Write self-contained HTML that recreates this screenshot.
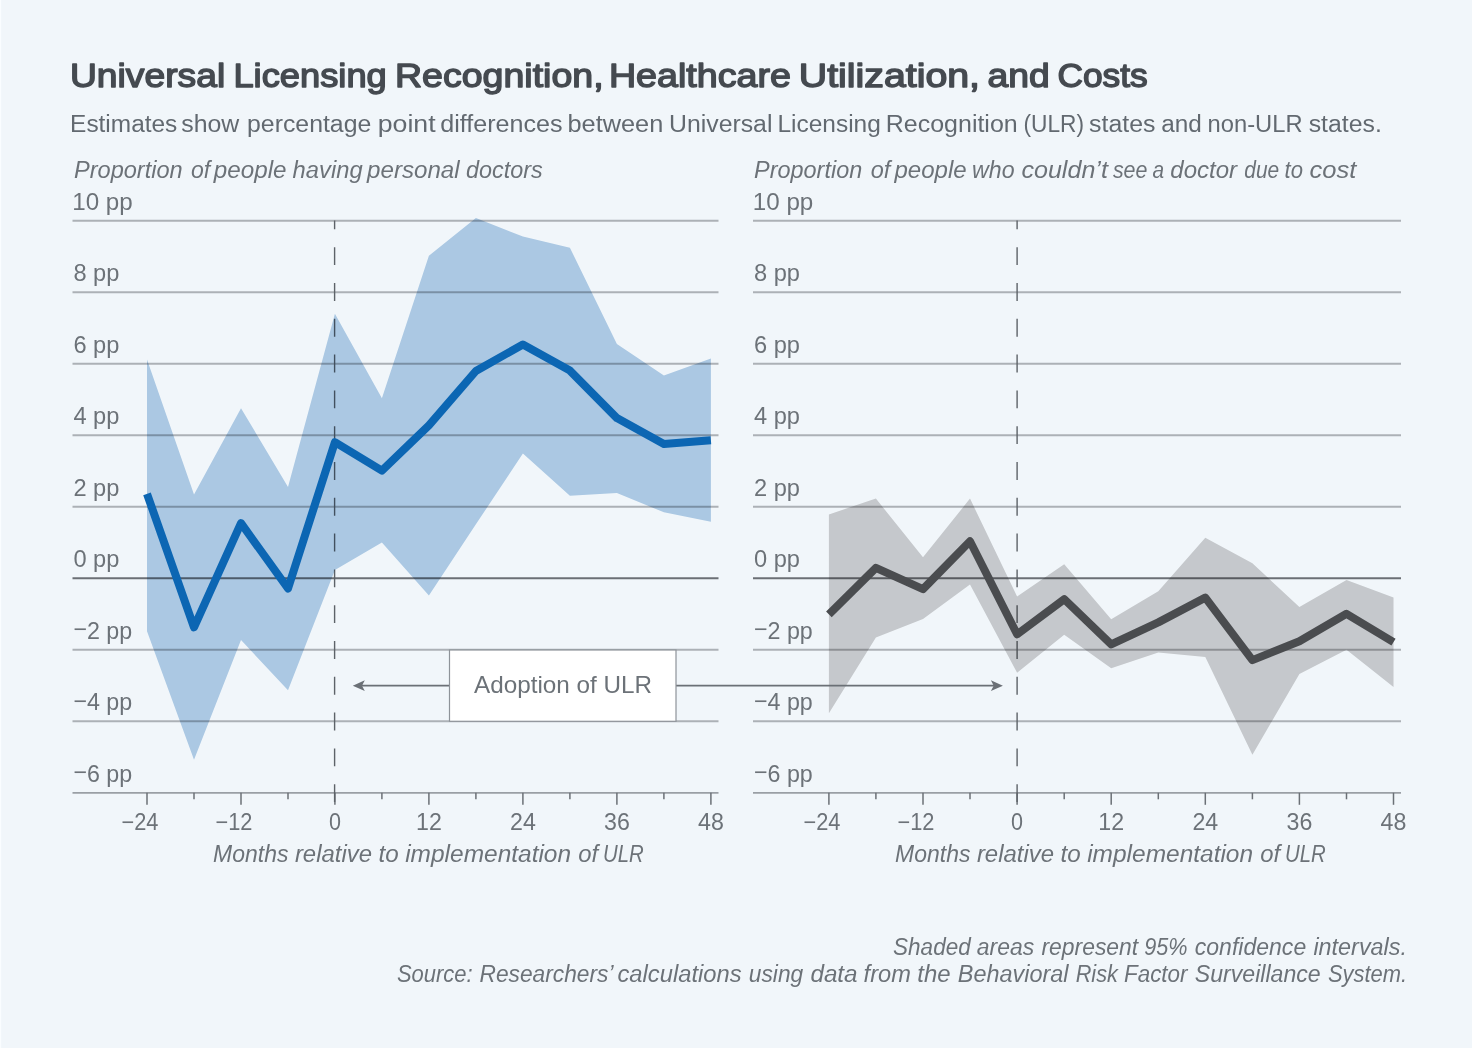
<!DOCTYPE html>
<html><head><meta charset="utf-8"><title>Universal Licensing Recognition, Healthcare Utilization, and Costs</title>
<style>
html,body{margin:0;padding:0;background:#f1f6fa;}
svg{display:block}
text{font-family:"Liberation Sans",sans-serif;}
.lab{font-size:23px;fill:#6c7278;}
.it{font-size:23px;font-style:italic;fill:#6c7278;}
</style></head><body>
<svg width="1472" height="1048" viewBox="0 0 1472 1048">
<rect width="1472" height="1048" fill="#f1f6fa"/>
<rect x="0" y="0" width="1.2" height="1048" fill="#fafdff"/>
<text y="87.1" font-size="33.6" fill="#454a50" stroke="#454a50" stroke-width="1.45" stroke-linejoin="round"><tspan x="69.9" textLength="155.3" lengthAdjust="spacingAndGlyphs">Universal</tspan> <tspan x="233.4" textLength="153.4" lengthAdjust="spacingAndGlyphs">Licensing</tspan> <tspan x="395.0" textLength="208.6" lengthAdjust="spacingAndGlyphs">Recognition,</tspan> <tspan x="608.9" textLength="182.1" lengthAdjust="spacingAndGlyphs">Healthcare</tspan> <tspan x="798.8" textLength="181.2" lengthAdjust="spacingAndGlyphs">Utilization,</tspan> <tspan x="987.6" textLength="62.2" lengthAdjust="spacingAndGlyphs">and</tspan> <tspan x="1057.4" textLength="90.4" lengthAdjust="spacingAndGlyphs">Costs</tspan></text>
<text y="131.7" font-size="23.5" fill="#626970"><tspan x="70.1" textLength="107.2" lengthAdjust="spacingAndGlyphs">Estimates</tspan> <tspan x="181.2" textLength="58.1" lengthAdjust="spacingAndGlyphs">show</tspan> <tspan x="247.0" textLength="124.3" lengthAdjust="spacingAndGlyphs">percentage</tspan> <tspan x="377.7" textLength="57.9" lengthAdjust="spacingAndGlyphs">point</tspan> <tspan x="440.2" textLength="122.4" lengthAdjust="spacingAndGlyphs">differences</tspan> <tspan x="567.5" textLength="95.8" lengthAdjust="spacingAndGlyphs">between</tspan> <tspan x="669.0" textLength="103.4" lengthAdjust="spacingAndGlyphs">Universal</tspan> <tspan x="777.4" textLength="103.4" lengthAdjust="spacingAndGlyphs">Licensing</tspan> <tspan x="885.8" textLength="131.9" lengthAdjust="spacingAndGlyphs">Recognition</tspan> <tspan x="1023.5" textLength="60.6" lengthAdjust="spacingAndGlyphs">(ULR)</tspan> <tspan x="1089.1" textLength="66.3" lengthAdjust="spacingAndGlyphs">states</tspan> <tspan x="1161.2" textLength="40.6" lengthAdjust="spacingAndGlyphs">and</tspan> <tspan x="1207.6" textLength="95.0" lengthAdjust="spacingAndGlyphs">non-ULR</tspan> <tspan x="1308.7" textLength="73.1" lengthAdjust="spacingAndGlyphs">states.</tspan></text>
<text y="177.6" class="it"><tspan x="74.0" textLength="108.7" lengthAdjust="spacingAndGlyphs">Proportion</tspan> <tspan x="191.0" textLength="19.2" lengthAdjust="spacingAndGlyphs">of</tspan> <tspan x="213.8" textLength="72.7" lengthAdjust="spacingAndGlyphs">people</tspan> <tspan x="292.6" textLength="70.0" lengthAdjust="spacingAndGlyphs">having</tspan> <tspan x="367.1" textLength="92.5" lengthAdjust="spacingAndGlyphs">personal</tspan> <tspan x="466.0" textLength="76.7" lengthAdjust="spacingAndGlyphs">doctors</tspan></text>
<text y="177.6" class="it"><tspan x="754.1" textLength="108.1" lengthAdjust="spacingAndGlyphs">Proportion</tspan> <tspan x="870.8" textLength="19.6" lengthAdjust="spacingAndGlyphs">of</tspan> <tspan x="894.5" textLength="72.2" lengthAdjust="spacingAndGlyphs">people</tspan> <tspan x="972.1" textLength="42.5" lengthAdjust="spacingAndGlyphs">who</tspan> <tspan x="1021.4" textLength="86.5" lengthAdjust="spacingAndGlyphs">couldn’t</tspan> <tspan x="1112.9" textLength="34.5" lengthAdjust="spacingAndGlyphs">see</tspan> <tspan x="1152.4" textLength="11.6" lengthAdjust="spacingAndGlyphs">a</tspan> <tspan x="1170.3" textLength="66.8" lengthAdjust="spacingAndGlyphs">doctor</tspan> <tspan x="1244.3" textLength="34.9" lengthAdjust="spacingAndGlyphs">due</tspan> <tspan x="1284.6" textLength="18.4" lengthAdjust="spacingAndGlyphs">to</tspan> <tspan x="1309.6" textLength="46.8" lengthAdjust="spacingAndGlyphs">cost</tspan></text>
<line x1="72.5" x2="718.5" y1="220.8" y2="220.8" stroke="#acb1b6" stroke-width="1.9"/>
<line x1="72.5" x2="718.5" y1="292.3" y2="292.3" stroke="#acb1b6" stroke-width="1.9"/>
<line x1="72.5" x2="718.5" y1="363.8" y2="363.8" stroke="#acb1b6" stroke-width="1.9"/>
<line x1="72.5" x2="718.5" y1="435.3" y2="435.3" stroke="#acb1b6" stroke-width="1.9"/>
<line x1="72.5" x2="718.5" y1="506.8" y2="506.8" stroke="#acb1b6" stroke-width="1.9"/>
<line x1="72.5" x2="718.5" y1="649.8" y2="649.8" stroke="#acb1b6" stroke-width="1.9"/>
<line x1="72.5" x2="718.5" y1="721.3" y2="721.3" stroke="#acb1b6" stroke-width="1.9"/>
<line x1="72.5" x2="718.5" y1="578.2" y2="578.2" stroke="#6b6f75" stroke-width="1.9"/>
<line x1="72.5" x2="718.5" y1="792.8" y2="792.8" stroke="#9a9fa5" stroke-width="1.8"/>
<line x1="147.0" x2="147.0" y1="792.8" y2="804.8" stroke="#6b7076" stroke-width="1.5"/>
<line x1="194.0" x2="194.0" y1="792.8" y2="799.3" stroke="#6b7076" stroke-width="1.5"/>
<line x1="241.0" x2="241.0" y1="792.8" y2="804.8" stroke="#6b7076" stroke-width="1.5"/>
<line x1="288.0" x2="288.0" y1="792.8" y2="799.3" stroke="#6b7076" stroke-width="1.5"/>
<line x1="334.9" x2="334.9" y1="792.8" y2="804.8" stroke="#6b7076" stroke-width="1.5"/>
<line x1="381.9" x2="381.9" y1="792.8" y2="799.3" stroke="#6b7076" stroke-width="1.5"/>
<line x1="428.9" x2="428.9" y1="792.8" y2="804.8" stroke="#6b7076" stroke-width="1.5"/>
<line x1="475.9" x2="475.9" y1="792.8" y2="799.3" stroke="#6b7076" stroke-width="1.5"/>
<line x1="522.9" x2="522.9" y1="792.8" y2="804.8" stroke="#6b7076" stroke-width="1.5"/>
<line x1="569.9" x2="569.9" y1="792.8" y2="799.3" stroke="#6b7076" stroke-width="1.5"/>
<line x1="616.9" x2="616.9" y1="792.8" y2="804.8" stroke="#6b7076" stroke-width="1.5"/>
<line x1="663.9" x2="663.9" y1="792.8" y2="799.3" stroke="#6b7076" stroke-width="1.5"/>
<line x1="710.9" x2="710.9" y1="792.8" y2="804.8" stroke="#6b7076" stroke-width="1.5"/>
<line x1="334.6" x2="334.6" y1="802.1" y2="220.5" stroke="#5d6268" stroke-width="1.4" stroke-dasharray="17.9 17.9"/>
<polygon fill="rgb(181,208,232)" style="mix-blend-mode:multiply" points="147.0,359.6 194.0,494.4 241.0,408.2 288.0,486.9 334.9,313.8 381.9,398.3 428.9,255.7 475.9,218.1 522.9,236.5 569.9,247.7 616.9,344.1 663.9,375.6 710.9,358.4 710.9,521.7 663.9,512.3 616.9,493.0 569.9,495.7 522.9,453.5 475.9,524.3 428.9,595.5 381.9,542.6 334.9,570.0 288.0,690.2 241.0,640.0 194.0,759.8 147.0,631.2"/>
<polyline fill="none" stroke="#0c66b3" stroke-width="8" stroke-linejoin="round" points="147.0,493.8 194.0,627.3 241.0,523.2 288.0,588.5 334.9,442.2 381.9,470.6 428.9,425.3 475.9,371.0 522.9,344.5 569.9,370.6 616.9,418.1 663.9,444.0 710.9,440.3"/>
<text x="72.2" y="209.6" class="lab" textLength="60.5" lengthAdjust="spacingAndGlyphs">10 pp</text>
<text x="73.4" y="281.1" class="lab" textLength="46" lengthAdjust="spacingAndGlyphs">8 pp</text>
<text x="73.4" y="352.6" class="lab" textLength="46" lengthAdjust="spacingAndGlyphs">6 pp</text>
<text x="73.4" y="424.1" class="lab" textLength="46" lengthAdjust="spacingAndGlyphs">4 pp</text>
<text x="73.4" y="495.6" class="lab" textLength="46" lengthAdjust="spacingAndGlyphs">2 pp</text>
<text x="73.4" y="567.1" class="lab" textLength="46" lengthAdjust="spacingAndGlyphs">0 pp</text>
<text x="73.4" y="638.6" class="lab" textLength="58.8" lengthAdjust="spacingAndGlyphs"><tspan dy="-1.6">−</tspan><tspan dy="1.6">2 pp</tspan></text>
<text x="73.4" y="710.1" class="lab" textLength="58.8" lengthAdjust="spacingAndGlyphs"><tspan dy="-1.6">−</tspan><tspan dy="1.6">4 pp</tspan></text>
<text x="73.4" y="781.6" class="lab" textLength="58.8" lengthAdjust="spacingAndGlyphs"><tspan dy="-1.6">−</tspan><tspan dy="1.6">6 pp</tspan></text>
<text x="158.5" y="830" class="lab" text-anchor="end" textLength="37" lengthAdjust="spacingAndGlyphs">−24</text>
<text x="252.5" y="830" class="lab" text-anchor="end" textLength="37" lengthAdjust="spacingAndGlyphs">−12</text>
<text x="334.9" y="830" class="lab" text-anchor="middle" textLength="12" lengthAdjust="spacingAndGlyphs">0</text>
<text x="428.9" y="830" class="lab" text-anchor="middle" textLength="25.8" lengthAdjust="spacingAndGlyphs">12</text>
<text x="522.9" y="830" class="lab" text-anchor="middle" textLength="25.8" lengthAdjust="spacingAndGlyphs">24</text>
<text x="616.9" y="830" class="lab" text-anchor="middle" textLength="25.8" lengthAdjust="spacingAndGlyphs">36</text>
<text x="710.9" y="830" class="lab" text-anchor="middle" textLength="25.8" lengthAdjust="spacingAndGlyphs">48</text>
<line x1="753" x2="1401" y1="220.8" y2="220.8" stroke="#acb1b6" stroke-width="1.9"/>
<line x1="753" x2="1401" y1="292.3" y2="292.3" stroke="#acb1b6" stroke-width="1.9"/>
<line x1="753" x2="1401" y1="363.8" y2="363.8" stroke="#acb1b6" stroke-width="1.9"/>
<line x1="753" x2="1401" y1="435.3" y2="435.3" stroke="#acb1b6" stroke-width="1.9"/>
<line x1="753" x2="1401" y1="506.8" y2="506.8" stroke="#acb1b6" stroke-width="1.9"/>
<line x1="753" x2="1401" y1="649.8" y2="649.8" stroke="#acb1b6" stroke-width="1.9"/>
<line x1="753" x2="1401" y1="721.3" y2="721.3" stroke="#acb1b6" stroke-width="1.9"/>
<line x1="753" x2="1401" y1="578.2" y2="578.2" stroke="#6b6f75" stroke-width="1.9"/>
<line x1="753" x2="1401" y1="792.8" y2="792.8" stroke="#9a9fa5" stroke-width="1.8"/>
<line x1="828.9" x2="828.9" y1="792.8" y2="804.8" stroke="#6b7076" stroke-width="1.5"/>
<line x1="875.9" x2="875.9" y1="792.8" y2="799.3" stroke="#6b7076" stroke-width="1.5"/>
<line x1="923.0" x2="923.0" y1="792.8" y2="804.8" stroke="#6b7076" stroke-width="1.5"/>
<line x1="970.0" x2="970.0" y1="792.8" y2="799.3" stroke="#6b7076" stroke-width="1.5"/>
<line x1="1017.1" x2="1017.1" y1="792.8" y2="804.8" stroke="#6b7076" stroke-width="1.5"/>
<line x1="1064.2" x2="1064.2" y1="792.8" y2="799.3" stroke="#6b7076" stroke-width="1.5"/>
<line x1="1111.2" x2="1111.2" y1="792.8" y2="804.8" stroke="#6b7076" stroke-width="1.5"/>
<line x1="1158.3" x2="1158.3" y1="792.8" y2="799.3" stroke="#6b7076" stroke-width="1.5"/>
<line x1="1205.3" x2="1205.3" y1="792.8" y2="804.8" stroke="#6b7076" stroke-width="1.5"/>
<line x1="1252.4" x2="1252.4" y1="792.8" y2="799.3" stroke="#6b7076" stroke-width="1.5"/>
<line x1="1299.4" x2="1299.4" y1="792.8" y2="804.8" stroke="#6b7076" stroke-width="1.5"/>
<line x1="1346.5" x2="1346.5" y1="792.8" y2="799.3" stroke="#6b7076" stroke-width="1.5"/>
<line x1="1393.5" x2="1393.5" y1="792.8" y2="804.8" stroke="#6b7076" stroke-width="1.5"/>
<line x1="1017.1" x2="1017.1" y1="802.1" y2="220.5" stroke="#5d6268" stroke-width="1.4" stroke-dasharray="17.9 17.9"/>
<polygon fill="rgb(209,208,208)" style="mix-blend-mode:multiply" points="828.9,514.4 875.9,498.6 923.0,557.3 970.0,498.6 1017.1,596.5 1064.2,564.3 1111.2,619.3 1158.3,591.3 1205.3,537.7 1252.4,563.3 1299.4,607.0 1346.5,579.9 1393.5,597.6 1393.5,686.9 1346.5,649.8 1299.4,674.0 1252.4,754.8 1205.3,656.9 1158.3,652.6 1111.2,668.3 1064.2,634.7 1017.1,672.8 970.0,584.5 923.0,618.9 875.9,637.5 828.9,713.3"/>
<polyline fill="none" stroke="#4a4c4f" stroke-width="8" stroke-linejoin="round" points="828.9,614.3 875.9,567.9 923.0,589.1 970.0,541.3 1017.1,634.3 1064.2,599.2 1111.2,644.4 1158.3,622.4 1205.3,597.6 1252.4,660.1 1299.4,641.2 1346.5,613.8 1393.5,642.2"/>
<text x="752.8" y="209.6" class="lab" textLength="60.5" lengthAdjust="spacingAndGlyphs">10 pp</text>
<text x="754" y="281.1" class="lab" textLength="46" lengthAdjust="spacingAndGlyphs">8 pp</text>
<text x="754" y="352.6" class="lab" textLength="46" lengthAdjust="spacingAndGlyphs">6 pp</text>
<text x="754" y="424.1" class="lab" textLength="46" lengthAdjust="spacingAndGlyphs">4 pp</text>
<text x="754" y="495.6" class="lab" textLength="46" lengthAdjust="spacingAndGlyphs">2 pp</text>
<text x="754" y="567.1" class="lab" textLength="46" lengthAdjust="spacingAndGlyphs">0 pp</text>
<text x="754" y="638.6" class="lab" textLength="58.8" lengthAdjust="spacingAndGlyphs"><tspan dy="-1.6">−</tspan><tspan dy="1.6">2 pp</tspan></text>
<text x="754" y="710.1" class="lab" textLength="58.8" lengthAdjust="spacingAndGlyphs"><tspan dy="-1.6">−</tspan><tspan dy="1.6">4 pp</tspan></text>
<text x="754" y="781.6" class="lab" textLength="58.8" lengthAdjust="spacingAndGlyphs"><tspan dy="-1.6">−</tspan><tspan dy="1.6">6 pp</tspan></text>
<text x="840.4" y="830" class="lab" text-anchor="end" textLength="37" lengthAdjust="spacingAndGlyphs">−24</text>
<text x="934.5" y="830" class="lab" text-anchor="end" textLength="37" lengthAdjust="spacingAndGlyphs">−12</text>
<text x="1017.1" y="830" class="lab" text-anchor="middle" textLength="12" lengthAdjust="spacingAndGlyphs">0</text>
<text x="1111.2" y="830" class="lab" text-anchor="middle" textLength="25.8" lengthAdjust="spacingAndGlyphs">12</text>
<text x="1205.3" y="830" class="lab" text-anchor="middle" textLength="25.8" lengthAdjust="spacingAndGlyphs">24</text>
<text x="1299.4" y="830" class="lab" text-anchor="middle" textLength="25.8" lengthAdjust="spacingAndGlyphs">36</text>
<text x="1393.5" y="830" class="lab" text-anchor="middle" textLength="25.8" lengthAdjust="spacingAndGlyphs">48</text>
<text y="862.2" class="it"><tspan x="213.1" textLength="75.3" lengthAdjust="spacingAndGlyphs">Months</tspan> <tspan x="294.9" textLength="77.2" lengthAdjust="spacingAndGlyphs">relative</tspan> <tspan x="378.6" textLength="20.2" lengthAdjust="spacingAndGlyphs">to</tspan> <tspan x="405.2" textLength="165.9" lengthAdjust="spacingAndGlyphs">implementation</tspan> <tspan x="578.3" textLength="19.9" lengthAdjust="spacingAndGlyphs">of</tspan> <tspan x="603.0" textLength="40.7" lengthAdjust="spacingAndGlyphs">ULR</tspan></text>
<text y="862.2" class="it"><tspan x="895.1" textLength="75.3" lengthAdjust="spacingAndGlyphs">Months</tspan> <tspan x="976.9" textLength="77.2" lengthAdjust="spacingAndGlyphs">relative</tspan> <tspan x="1060.6" textLength="20.2" lengthAdjust="spacingAndGlyphs">to</tspan> <tspan x="1087.2" textLength="165.9" lengthAdjust="spacingAndGlyphs">implementation</tspan> <tspan x="1260.3" textLength="19.9" lengthAdjust="spacingAndGlyphs">of</tspan> <tspan x="1285.0" textLength="40.7" lengthAdjust="spacingAndGlyphs">ULR</tspan></text>
<!-- annotation -->
<line x1="360" x2="449" y1="685.7" y2="685.7" stroke="#6b7076" stroke-width="1.8"/>
<line x1="676" x2="996" y1="685.7" y2="685.7" stroke="#6b7076" stroke-width="1.8"/>
<polygon fill="#6b7076" points="352.8,685.7 364.8,680.3 362,685.7 364.8,691.1"/>
<polygon fill="#6b7076" points="1002.9,685.7 990.9,680.3 993.7,685.7 990.9,691.1"/>
<rect x="449.5" y="650" width="226.5" height="71.3" fill="#ffffff" stroke="#8e9399" stroke-width="1.2"/>
<text x="474" y="692.8" font-size="24" fill="#6c7278" textLength="178" lengthAdjust="spacingAndGlyphs">Adoption of ULR</text>
<text y="954.7" class="it"><tspan x="893.1" textLength="77.6" lengthAdjust="spacingAndGlyphs">Shaded</tspan> <tspan x="976.8" textLength="57.4" lengthAdjust="spacingAndGlyphs">areas</tspan> <tspan x="1041.5" textLength="96.6" lengthAdjust="spacingAndGlyphs">represent</tspan> <tspan x="1144.2" textLength="43.3" lengthAdjust="spacingAndGlyphs">95%</tspan> <tspan x="1194.8" textLength="111.4" lengthAdjust="spacingAndGlyphs">confidence</tspan> <tspan x="1313.4" textLength="93.6" lengthAdjust="spacingAndGlyphs">intervals.</tspan></text>
<text y="982.1" class="it"><tspan x="396.9" textLength="75.7" lengthAdjust="spacingAndGlyphs">Source:</tspan> <tspan x="479.5" textLength="132.7" lengthAdjust="spacingAndGlyphs">Researchers’</tspan> <tspan x="617.5" textLength="124.1" lengthAdjust="spacingAndGlyphs">calculations</tspan> <tspan x="748.8" textLength="54.4" lengthAdjust="spacingAndGlyphs">using</tspan> <tspan x="810.4" textLength="47.2" lengthAdjust="spacingAndGlyphs">data</tspan> <tspan x="863.6" textLength="47.2" lengthAdjust="spacingAndGlyphs">from</tspan> <tspan x="917.3" textLength="33.3" lengthAdjust="spacingAndGlyphs">the</tspan> <tspan x="957.8" textLength="110.7" lengthAdjust="spacingAndGlyphs">Behavioral</tspan> <tspan x="1075.7" textLength="42.2" lengthAdjust="spacingAndGlyphs">Risk</tspan> <tspan x="1124.0" textLength="63.5" lengthAdjust="spacingAndGlyphs">Factor</tspan> <tspan x="1194.8" textLength="125.9" lengthAdjust="spacingAndGlyphs">Surveillance</tspan> <tspan x="1327.9" textLength="79.1" lengthAdjust="spacingAndGlyphs">System.</tspan></text>
</svg>
</body></html>
